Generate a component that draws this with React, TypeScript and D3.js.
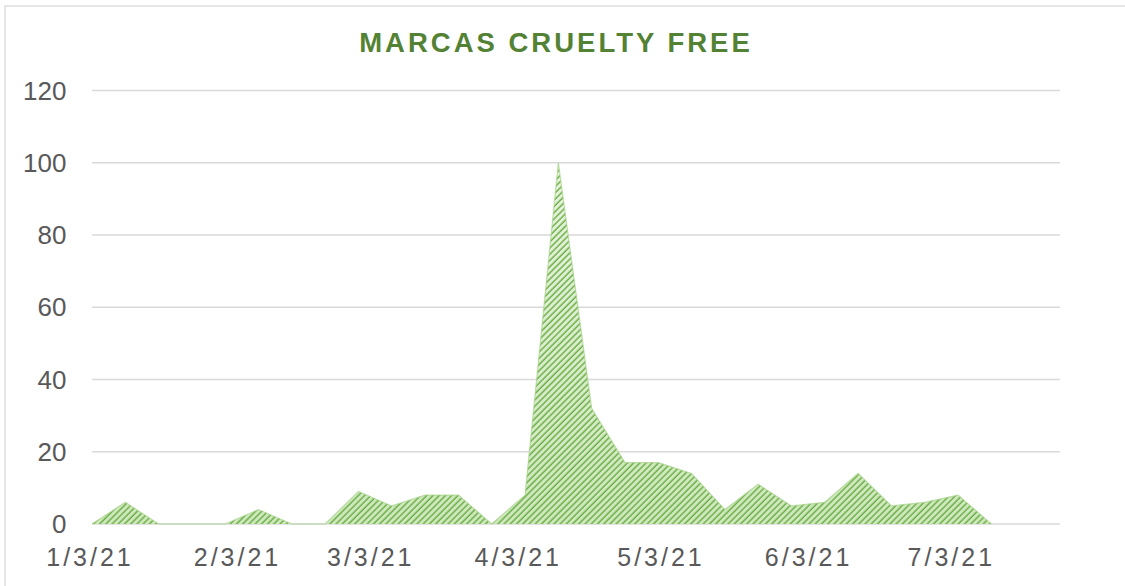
import React from "react";
import * as d3 from "d3";

const weeks = [
  "2021-01-03", "2021-01-10", "2021-01-17", "2021-01-24", "2021-01-31",
  "2021-02-07", "2021-02-14", "2021-02-21", "2021-02-28", "2021-03-07",
  "2021-03-14", "2021-03-21", "2021-03-28", "2021-04-04", "2021-04-11",
  "2021-04-18", "2021-04-25", "2021-05-02", "2021-05-09", "2021-05-16",
  "2021-05-23", "2021-05-30", "2021-06-06", "2021-06-13", "2021-06-20",
  "2021-06-27", "2021-07-04", "2021-07-11",
];
const values = [
  0, 6, 0, 0, 0, 4, 0, 0, 9, 5, 8, 8, 0, 8, 100, 32, 17, 17, 14, 4, 11, 5, 6, 14, 5, 6, 8, 0,
];
const xDomain = ["2021-01-03", "2021-07-25"];
const xTicks = ["2021-01-03", "2021-02-03", "2021-03-03", "2021-04-03", "2021-05-03", "2021-06-03", "2021-07-03"];
const yTicks = [0, 20, 40, 60, 80, 100, 120];
const title = "MARCAS CRUELTY FREE";

const W = 1125;
const H = 586;
const M = { left: 92, right: 1058, top: 90.5, bottom: 524 };

export default function App() {
  const parse = d3.utcParse("%Y-%m-%d");
  const fmt = (d: Date) => `${d.getUTCMonth() + 1}/${d.getUTCDate()}/${String(d.getUTCFullYear()).slice(2)}`;
  const x = d3.scaleUtc().domain(xDomain.map((s) => parse(s) as Date)).range([M.left, M.right]);
  const y = d3.scaleLinear().domain([0, 120]).range([M.bottom, M.top]);
  const data = weeks.map((w, i) => ({ d: parse(w) as Date, v: values[i] }));
  const area = d3
    .area<{ d: Date; v: number }>()
    .x((p) => x(p.d))
    .y0(y(0))
    .y1((p) => y(p.v));
  const line = d3
    .line<{ d: Date; v: number }>()
    .x((p) => x(p.d))
    .y((p) => y(p.v));
  const font = "'Liberation Sans', Arial, sans-serif";

  return (
    <svg
      width={W}
      height={H}
      style={{ position: "absolute", left: 0, top: 0, background: "#fff" }}
      fontFamily={font}
    >
      <defs>
        <linearGradient id="g" x1="0" y1="0" x2="0" y2="1">
          <stop offset="0" stopColor="#e8f3df" />
          <stop offset="1" stopColor="#cfe7bd" />
        </linearGradient>
        <pattern
          id="hatch"
          width="4.4"
          height="10"
          patternUnits="userSpaceOnUse"
          patternTransform="rotate(45)"
        >
          <line x1="1" y1="0" x2="1" y2="10" stroke="#66ad40" strokeWidth="1.4" />
        </pattern>
      </defs>
      <rect x={5} y={6} width={1300} height={800} fill="#fff" stroke="#d9d9d9" strokeWidth={1.3} />
      <text
        x={556}
        y={51.5}
        textAnchor="middle"
        fontSize={27.5}
        fontWeight="bold"
        fill="#548235"
        letterSpacing={3}
      >
        {title}
      </text>
      {yTicks.map((t) => (
        <g key={t}>
          <line x1={M.left} x2={M.right + 2} y1={y(t)} y2={y(t)} stroke="#d9d9d9" strokeWidth={1.4} />
          <text x={66.5} y={y(t)} dy="0.35em" textAnchor="end" fontSize={26} fill="#595959">
            {t}
          </text>
        </g>
      ))}
      <path d={area(data) || ""} fill="url(#g)" />
      <path d={area(data) || ""} fill="url(#hatch)" />
      <path d={line(data) || ""} fill="none" stroke="#a6d38a" strokeWidth={1.2} strokeOpacity={0.7} />
      {xTicks.map((t) => {
        const d = parse(t) as Date;
        return (
          <text key={t} x={x(d) - 2} y={566} textAnchor="middle" fontSize={25} fill="#595959" letterSpacing={3}>
            {fmt(d)}
          </text>
        );
      })}
    </svg>
  );
}
